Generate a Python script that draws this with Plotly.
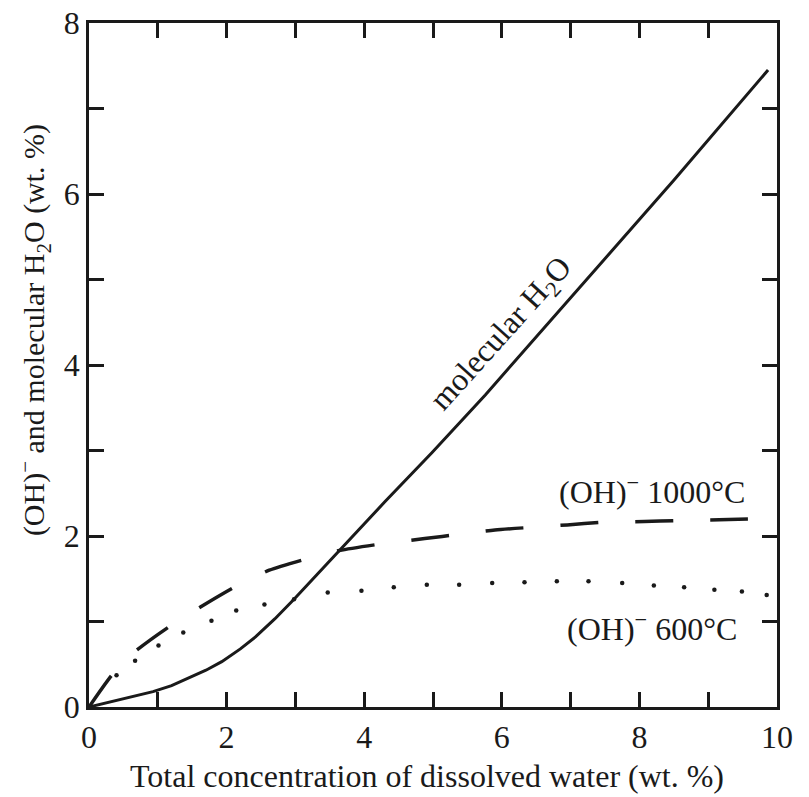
import plotly.graph_objects as go

# Molecular H2O (solid)
mol_x = [0, 0.47, 0.93, 1.2, 1.45, 1.7, 1.93, 2.2, 2.42, 2.7, 2.98, 3.3, 3.64, 4.30, 4.98, 5.76, 7.0, 8.5, 9.87]
mol_y = [0, 0.09, 0.18, 0.25, 0.34, 0.43, 0.53, 0.68, 0.82, 1.03, 1.26, 1.54, 1.83, 2.40, 2.97, 3.65, 4.79, 6.16, 7.45]

# (OH)- 1000 C (dashed)
oh1000_x = [0, 0.33, 0.64, 1.13, 1.62, 2.13, 2.62, 3.15, 3.64, 4.27, 4.88, 5.39, 5.9, 6.95, 7.46, 8.07, 8.53, 9.16, 9.65]
oh1000_y = [0, 0.37, 0.63, 0.92, 1.17, 1.41, 1.60, 1.73, 1.83, 1.91, 1.97, 2.02, 2.07, 2.13, 2.16, 2.17, 2.18, 2.19, 2.20]

# (OH)- 600 C (dotted)
oh600_x = [0.4, 0.67, 1.01, 1.37, 1.78, 2.14, 2.55, 2.98, 3.47, 3.96, 4.43, 4.91, 5.38, 5.86, 6.33, 6.8, 7.26, 7.75, 8.21, 8.65, 9.09, 9.49, 9.85]
oh600_y = [0.37, 0.54, 0.72, 0.87, 1.01, 1.13, 1.20, 1.26, 1.34, 1.36, 1.40, 1.43, 1.43, 1.45, 1.46, 1.47, 1.47, 1.45, 1.42, 1.40, 1.37, 1.35, 1.31]

x_tickvals = [0, 2, 4, 6, 8, 10]
x_minorvals = [1, 3, 5, 7, 9]
y_tickvals = [0, 2, 4, 6, 8]
y_minorvals = [1, 3, 5, 7]

FONT = "Liberation Serif"
INK = "#1a1a1a"

fig = go.Figure()
fig.add_trace(go.Scatter(x=mol_x, y=mol_y, mode="lines",
                         line=dict(color=INK, width=3, shape="linear")))
fig.add_trace(go.Scatter(x=oh1000_x, y=oh1000_y, mode="lines",
                         line=dict(color=INK, width=3.5, dash="38px,37px", shape="spline", smoothing=0.6)))
fig.add_trace(go.Scatter(x=oh600_x, y=oh600_y, mode="markers",
                         marker=dict(color=INK, size=4.5, symbol="circle", line=dict(width=0))))

axis_common = dict(
    showgrid=False, zeroline=False, showline=True, linecolor=INK, linewidth=2.5,
    mirror="ticks", ticks="inside", ticklen=15, tickwidth=2.5, tickcolor=INK,
    tickfont=dict(family=FONT, size=32, color=INK), automargin=False,
    ticklabeloverflow="allow",
)

fig.update_layout(
    width=809, height=797,
    margin=dict(l=89, r=32, t=23, b=90),
    paper_bgcolor="white", plot_bgcolor="white",
    showlegend=False,
    font=dict(family=FONT, color=INK),
    xaxis=dict(range=[0, 10], tickmode="array", tickvals=x_tickvals,
               minor=dict(tickmode="array", tickvals=x_minorvals, ticks="inside", ticklen=15,
                          tickwidth=2.5, tickcolor=INK, showgrid=False),
               **axis_common),
    yaxis=dict(range=[0, 8], tickmode="array", tickvals=y_tickvals,
               minor=dict(tickmode="array", tickvals=y_minorvals, ticks="inside", ticklen=15,
                          tickwidth=2.5, tickcolor=INK, showgrid=False),
               **axis_common),
    annotations=[
        dict(text="Total concentration of dissolved water (wt. %)", xref="paper", yref="paper",
             x=0.492, y=0, yshift=-69, xanchor="center", yanchor="middle", showarrow=False,
             font=dict(family=FONT, size=32, color=INK)),
        dict(text="(OH)<sup>−</sup> and molecular H<sub>2</sub>O (wt. %)", xref="paper", yref="paper",
             x=0, y=0.551, xshift=-55, xanchor="center", yanchor="middle", showarrow=False, textangle=-90,
             font=dict(family=FONT, size=30, color=INK)),
        dict(text="molecular H<sub>2</sub>O", x=6.0, y=4.36, xanchor="center", yanchor="middle",
             showarrow=False, textangle=-48, font=dict(family=FONT, size=32, color=INK)),
        dict(text="(OH)<sup>−</sup> 1000°C", x=8.18, y=2.54, xanchor="center", yanchor="middle",
             showarrow=False, font=dict(family=FONT, size=32, color=INK)),
        dict(text="(OH)<sup>−</sup> 600°C", x=8.18, y=0.94, xanchor="center", yanchor="middle",
             showarrow=False, font=dict(family=FONT, size=32, color=INK)),
    ],
)

fig.write_html("out.html", config={"displayModeBar": False},
               post_script="document.body.style.margin='0';document.body.style.padding='0';")
